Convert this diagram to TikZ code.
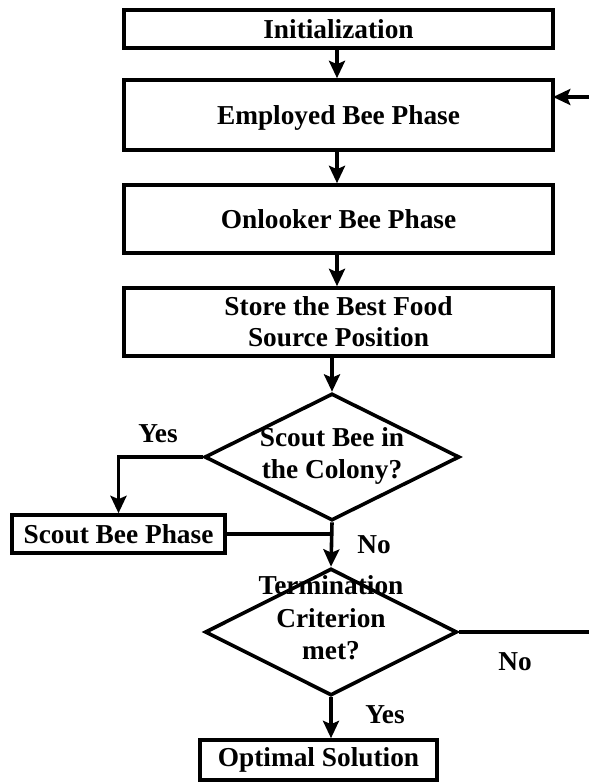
\documentclass[tikz,border=0pt]{standalone}
\usepackage{fontspec}
\setmainfont{Liberation Serif}
\usetikzlibrary{arrows.meta,shapes.geometric}
\begin{document}
\begin{tikzpicture}[x=0.75pt,y=-0.75pt,
  font=\fontsize{20.5}{23.5}\selectfont\bfseries,
  flowbox/.style={draw,line width=2.7pt,rectangle,inner sep=0pt,align=center},
  decision/.style={draw,line width=2.7pt,diamond,inner sep=0pt},
  plain/.style={inner sep=0pt,align=center},
  link/.style={line width=2.7pt,-{Stealth[length=13pt,width=12pt,inset=2.5pt]}},
  wire/.style={line width=2.7pt}]
\useasboundingbox (0,0) rectangle (588,784);

% main column of process steps
\node[flowbox,minimum width=321.75pt,minimum height=28.5pt] (init) at (338.5,29) {Initialization};
\node[flowbox,minimum width=321.75pt,minimum height=52.5pt] (emp) at (338.5,115) {};
\node[plain] (empt) at (338.5,118) {Employed Bee Phase};
\node[flowbox,minimum width=321.75pt,minimum height=51pt] (onl) at (338.5,219) {Onlooker Bee Phase};
\node[flowbox,minimum width=321.75pt,minimum height=51pt] (store) at (338.5,322) {Store the Best Food\\Source Position};

% decisions
\node[decision,minimum width=191.25pt,minimum height=95.25pt] (d1) at (332,457) {};
\node[plain] (d1t) at (332,456) {Scout Bee in\\the Colony?};
\node[decision,minimum width=189pt,minimum height=95.25pt] (d2) at (331,632) {};
\node[plain] (d2t) at (331,618) {Termination\\[1pt]Criterion\\[1pt]met?};

% side and final steps
\node[flowbox,minimum width=159.75pt,minimum height=28.5pt] (scout) at (118.5,534) {Scout Bee Phase};
\node[flowbox,minimum width=177.75pt,minimum height=30pt] (opt) at (318.5,760) {Optimal Solution};

% branch labels
\node[plain] (yes1) at (158,434) {Yes};
\node[plain] (no1) at (374,545) {No};
\node[plain] (no2) at (515,662) {No};
\node[plain] (yes2) at (385,715) {Yes};

% helper points for the loop-back line
\coordinate (fb) at (600,0);
\coordinate (empin) at (553,97);

% connectors
\draw[link] (init.south -| 337,0) -- (emp.north -| 337,0);
\draw[link] (emp.south -| 337,0) -- (onl.north -| 337,0);
\draw[link] (onl.south -| 337,0) -- (store.north -| 337,0);
\draw[link] (d1.north |- store.south) -- (d1.north);
\draw[link] (d1.west) -| (scout.north);
\draw[wire] (scout.east) -- (scout.east -| d1.south);
\draw[link] (d1.south) -- (d2.north);
\draw[link] (d2.south) -- (d2.south |- opt.north);
\draw[link] (d2.east) -- (d2.east -| fb) |- (empin);
\end{tikzpicture}
\end{document}
